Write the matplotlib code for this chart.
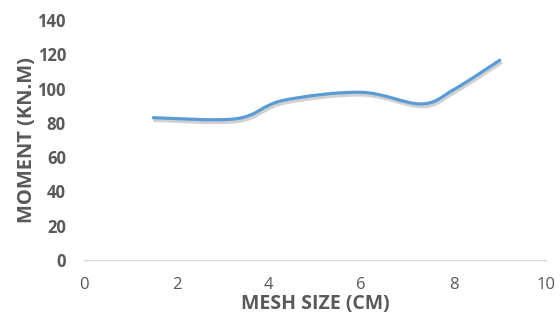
import matplotlib.pyplot as plt
import matplotlib.patheffects as pe
from matplotlib.path import Path
from matplotlib.patches import PathPatch

# Datos
mesh_size = [1.5, 3.3, 4.3, 6.0, 7.3, 8.0, 9.0]
moment = [83.0, 82.4, 93.0, 97.8, 91.0, 99.3, 116.5]

x_ticks = [0, 2, 4, 6, 8, 10]
y_ticks = [0, 20, 40, 60, 80, 100, 120, 140]


def smooth_path(xs, ys):
    # curva suavizada tipo Excel (Bezier cúbica, Catmull-Rom)
    n = len(xs)
    verts = [(xs[0], ys[0])]
    codes = [Path.MOVETO]
    for i in range(n - 1):
        x0, y0 = (xs[i - 1], ys[i - 1]) if i > 0 else (xs[i], ys[i])
        x1, y1 = xs[i], ys[i]
        x2, y2 = xs[i + 1], ys[i + 1]
        x3, y3 = (xs[i + 2], ys[i + 2]) if i + 2 < n else (x2, y2)
        c1 = (x1 + (x2 - x0) / 6, y1 + (y2 - y0) / 6)
        c2 = (x2 - (x3 - x1) / 6, y2 - (y3 - y1) / 6)
        verts += [c1, c2, (x2, y2)]
        codes += [Path.CURVE4] * 3
    return Path(verts, codes)


gray = "#595959"
plt.rcParams["font.family"] = ["Open Sans", "DejaVu Sans"]

fig = plt.figure(figsize=(5.6, 3.16), dpi=100)
ax = fig.add_axes([0.15, 0.177, 0.825, 0.76])

patch = PathPatch(smooth_path(mesh_size, moment), facecolor="none",
                  edgecolor="#5B9BD5", linewidth=2.3, capstyle="round")
patch.set_path_effects([pe.SimpleLineShadow(offset=(0.8, -2), alpha=0.18, shadow_color="black"),
                        pe.Normal()])
ax.add_patch(patch)

ax.set_xlim(0, 10)
ax.set_ylim(0, 140)
ax.set_xticks(x_ticks)
ax.set_yticks(y_ticks)
ax.tick_params(axis="x", length=0, pad=12)
ax.tick_params(axis="y", length=0, pad=13)
for lbl in ax.get_xticklabels():
    lbl.set_color(gray)
    lbl.set_fontsize(12)
for lbl in ax.get_yticklabels():
    lbl.set_color(gray)
    lbl.set_fontsize(12)
    lbl.set_fontweight("bold")

for s in ["top", "right", "left"]:
    ax.spines[s].set_visible(False)
ax.spines["bottom"].set_color("#d9d9d9")
ax.spines["bottom"].set_linewidth(1)

ax.set_xlabel("MESH SIZE (CM)", fontsize=14, fontweight="bold", color=gray, labelpad=1)
ax.set_ylabel("MOMENT (KN.M)", fontsize=14.5, fontweight="bold", color=gray, labelpad=0)

fig.savefig("out.png", dpi=100)
